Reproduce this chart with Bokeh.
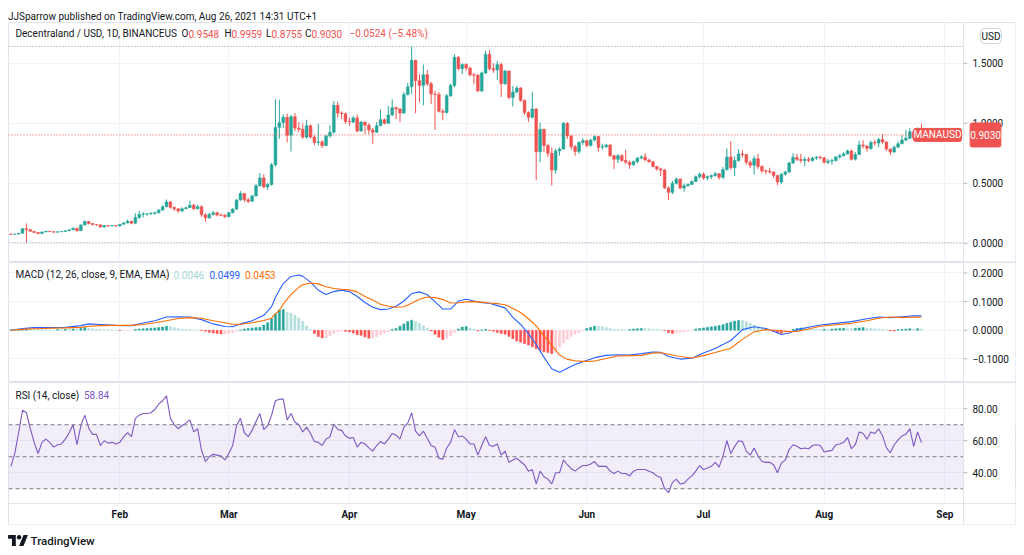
from datetime import datetime, timedelta
from bokeh.plotting import figure
from bokeh.layouts import column
from bokeh.models import (ColumnDataSource, Range1d, FixedTicker, Span, BoxAnnotation, Label, Div)
from bokeh.embed import file_html
from bokeh.resources import INLINE

# ---------------- data ----------------
START = datetime(2021, 1, 4)          # first visible daily candle
FIRST_OPEN = 0.078

CLOSE = [
    # Jan 4-31
    0.075, 0.077, 0.083, 0.122, 0.114, 0.100, 0.090, 0.082, 0.095, 0.100, 0.097, 0.093, 0.096, 0.098,
    0.104, 0.112, 0.126, 0.104, 0.152, 0.182, 0.165, 0.156, 0.154, 0.135, 0.148, 0.145, 0.148, 0.144,
    # Feb
    0.158, 0.170, 0.183, 0.168, 0.215, 0.240, 0.244, 0.246, 0.250, 0.257, 0.278, 0.305, 0.345, 0.300,
    0.287, 0.270, 0.288, 0.297, 0.318, 0.287, 0.305, 0.238, 0.212, 0.240, 0.255, 0.236, 0.234, 0.222,
    # Mar
    0.255, 0.285, 0.360, 0.415, 0.362, 0.350, 0.395, 0.480, 0.545, 0.470, 0.490, 0.655, 0.965, 1.005,
    1.050, 0.900, 1.055, 0.960, 0.950, 0.885, 0.980, 0.885, 0.840, 0.845, 0.815, 0.895, 0.925, 1.150,
    1.085, 1.080, 1.015,
    # Apr
    1.010, 1.045, 0.935, 1.010, 0.985, 0.945, 0.925, 0.980, 1.030, 1.000, 1.070, 1.130, 1.120, 1.085,
    1.240, 1.305, 1.525, 1.355, 1.315, 1.405, 1.330, 1.245, 1.240, 1.100, 1.090, 1.230, 1.315, 1.550,
    1.455, 1.490,
    # May
    1.460, 1.405, 1.400, 1.270, 1.420, 1.575, 1.455, 1.445, 1.490, 1.330, 1.435, 1.215, 1.260, 1.295,
    1.190, 1.090, 1.050, 1.120, 0.763, 0.950, 0.815, 0.750, 0.610, 0.770, 0.785, 1.000, 0.895, 0.805,
    0.765, 0.840, 0.855,
    # Jun
    0.815, 0.860, 0.890, 0.800, 0.805, 0.820, 0.730, 0.700, 0.730, 0.690, 0.675, 0.655, 0.680, 0.710,
    0.720, 0.695, 0.680, 0.640, 0.620, 0.610, 0.460, 0.425, 0.500, 0.535, 0.460, 0.480, 0.490, 0.515,
    0.555, 0.575,
    # Jul
    0.545, 0.555, 0.565, 0.580, 0.550, 0.615, 0.720, 0.630, 0.690, 0.745, 0.740, 0.675, 0.650, 0.705,
    0.640, 0.605, 0.600, 0.595, 0.565, 0.510, 0.575, 0.595, 0.670, 0.715, 0.700, 0.690, 0.700, 0.690,
    0.710, 0.718, 0.712,
    # Aug 1-26
    0.675, 0.685, 0.690, 0.720, 0.730, 0.745, 0.770, 0.700, 0.740, 0.820, 0.810, 0.790, 0.840, 0.835,
    0.865, 0.845, 0.785, 0.760, 0.800, 0.830, 0.860, 0.875, 0.930, 0.875, 0.9548, 0.9030,
]

HIGH = [
    0.080, 0.079, 0.085, 0.126, 0.165, 0.116, 0.102, 0.092, 0.098, 0.104, 0.103, 0.099, 0.099, 0.101,
    0.106, 0.115, 0.132, 0.128, 0.158, 0.190, 0.184, 0.168, 0.160, 0.156, 0.152, 0.152, 0.151, 0.150,
    0.162, 0.175, 0.198, 0.188, 0.250, 0.270, 0.262, 0.252, 0.258, 0.262, 0.283, 0.315, 0.365, 0.350,
    0.305, 0.292, 0.300, 0.305, 0.355, 0.330, 0.320, 0.315, 0.250, 0.255, 0.268, 0.262, 0.248, 0.242,
    0.262, 0.292, 0.368, 0.435, 0.418, 0.378, 0.405, 0.495, 0.585, 0.575, 0.505, 0.670, 1.200, 1.195,
    1.075, 1.080, 1.070, 1.085, 1.010, 1.000, 1.030, 0.990, 0.900, 0.995, 0.860, 0.905, 0.985, 1.185,
    1.180, 1.100, 1.090,
    1.050, 1.060, 1.075, 1.020, 1.015, 1.000, 0.960, 1.010, 1.115, 1.040, 1.145, 1.200, 1.140, 1.125,
    1.260, 1.335, 1.640, 1.530, 1.410, 1.490, 1.445, 1.345, 1.270, 1.260, 1.120, 1.245, 1.330, 1.575,
    1.560, 1.500,
    1.500, 1.470, 1.420, 1.410, 1.430, 1.605, 1.610, 1.500, 1.520, 1.505, 1.445, 1.440, 1.310, 1.310,
    1.300, 1.200, 1.100, 1.260, 1.125, 1.005, 0.955, 0.830, 0.800, 0.790, 0.800, 1.010, 1.010, 0.900,
    0.820, 0.850, 0.875,
    0.865, 0.870, 0.900, 0.895, 0.830, 0.830, 0.825, 0.740, 0.745, 0.740, 0.780, 0.690, 0.690, 0.718,
    0.735, 0.750, 0.705, 0.685, 0.645, 0.630, 0.620, 0.475, 0.520, 0.550, 0.540, 0.500, 0.500, 0.525,
    0.565, 0.590,
    0.590, 0.565, 0.572, 0.595, 0.585, 0.635, 0.790, 0.850, 0.725, 0.785, 0.775, 0.745, 0.690, 0.730,
    0.745, 0.650, 0.615, 0.630, 0.600, 0.570, 0.585, 0.605, 0.680, 0.750, 0.745, 0.745, 0.720, 0.720,
    0.720, 0.728, 0.730,
    0.720, 0.702, 0.705, 0.728, 0.745, 0.760, 0.780, 0.780, 0.760, 0.855, 0.860, 0.815, 0.855, 0.860,
    0.880, 0.910, 0.850, 0.790, 0.815, 0.850, 0.900, 0.945, 0.960, 0.940, 0.965, 0.9959,
]

LOW = [
    0.070, 0.072, 0.075, 0.081, 0.005, 0.097, 0.086, 0.076, 0.080, 0.093, 0.094, 0.089, 0.091, 0.094,
    0.096, 0.102, 0.110, 0.100, 0.102, 0.148, 0.158, 0.150, 0.146, 0.130, 0.132, 0.140, 0.142, 0.140,
    0.140, 0.155, 0.165, 0.158, 0.160, 0.205, 0.215, 0.225, 0.235, 0.238, 0.245, 0.270, 0.300, 0.290,
    0.270, 0.255, 0.260, 0.285, 0.295, 0.280, 0.285, 0.220, 0.180, 0.205, 0.232, 0.225, 0.226, 0.212,
    0.218, 0.250, 0.280, 0.355, 0.345, 0.335, 0.345, 0.390, 0.475, 0.460, 0.445, 0.480, 0.640, 0.870,
    0.960, 0.840, 0.765, 0.935, 0.925, 0.870, 0.870, 0.875, 0.815, 0.815, 0.795, 0.810, 0.880, 0.915,
    1.050, 1.035, 0.995,
    0.980, 1.000, 0.925, 0.930, 0.910, 0.910, 0.830, 0.920, 0.975, 0.990, 0.995, 1.060, 1.035, 1.010,
    1.080, 1.230, 1.245, 1.085, 1.175, 1.150, 1.310, 1.160, 0.945, 1.090, 1.025, 1.080, 1.220, 1.300,
    1.440, 1.410,
    1.440, 1.390, 1.330, 1.260, 1.260, 1.410, 1.440, 1.420, 1.360, 1.220, 1.320, 1.200, 1.140, 1.250,
    1.180, 1.070, 1.010, 1.040, 0.525, 0.675, 0.760, 0.720, 0.480, 0.580, 0.730, 0.780, 0.870, 0.780,
    0.730, 0.745, 0.820,
    0.800, 0.805, 0.850, 0.765, 0.780, 0.795, 0.720, 0.620, 0.670, 0.680, 0.660, 0.620, 0.645, 0.670,
    0.700, 0.685, 0.670, 0.630, 0.605, 0.560, 0.455, 0.360, 0.410, 0.490, 0.450, 0.430, 0.470, 0.485,
    0.510, 0.540,
    0.530, 0.525, 0.535, 0.555, 0.530, 0.535, 0.605, 0.615, 0.560, 0.680, 0.715, 0.655, 0.625, 0.575,
    0.620, 0.585, 0.575, 0.580, 0.545, 0.485, 0.495, 0.565, 0.585, 0.660, 0.685, 0.670, 0.640, 0.675,
    0.680, 0.695, 0.700,
    0.665, 0.660, 0.655, 0.680, 0.705, 0.725, 0.740, 0.690, 0.690, 0.735, 0.790, 0.765, 0.780, 0.815,
    0.800, 0.830, 0.770, 0.735, 0.755, 0.800, 0.825, 0.850, 0.870, 0.860, 0.870, 0.8755,
]

RSI = [
    44, 52, 65, 79, 77.5, 67.5, 59, 52, 59, 61, 59, 56, 57.5, 58, 61, 65, 70, 57.5, 69.5, 76,
    68, 64, 64, 57, 60, 58.5, 59, 58,
    59, 62.5, 65, 62.5, 74, 76, 77, 77, 77.5, 79.5, 83, 85, 88, 74, 70, 67.5, 69.5, 71, 73, 65.5,
    67.5, 54, 47, 50, 51.5, 51, 50.5, 48,
    52, 57, 69.5, 74, 65, 62.5, 66.5, 72, 77, 67, 69.5, 76, 85, 86, 86, 73, 77, 71.5, 70, 65.5,
    68.5, 64.5, 59.5, 59, 57, 61, 62.5, 70.5, 67, 66.5, 63,
    61.5, 62, 56, 59, 58, 55.5, 53.5, 57, 59.5, 58, 61, 64.5, 63.5, 61, 68.5, 71, 77.5, 66, 63, 66,
    61.5, 57, 56, 49, 48.5, 55.5, 59, 67, 62.5, 63,
    61, 58, 58, 51, 57, 62.5, 57, 56.5, 58, 51, 53.5, 46.5, 48, 49, 47, 45, 41, 42, 33, 41,
    37.5, 36, 33, 40, 40, 48, 45, 42.5, 41, 43, 44.5,
    44.5, 45.5, 47, 44, 44, 44, 41, 39.5, 41, 39.5, 39.5, 38, 41, 42, 42, 42, 41, 40, 38, 37,
    30, 27.5, 34, 36, 33, 33.5, 36, 38, 41, 44.5,
    42, 43, 44, 46.5, 43.5, 50.5, 60, 52, 56.5, 60, 59.5, 53.5, 51, 55.5, 50.5, 47, 46.5, 46.5, 45, 40,
    46, 48, 54.5, 57.5, 56.5, 55, 55.5, 55, 57, 57.5, 57,
    53, 53.5, 54, 57.5, 58, 59, 62, 55, 57.5, 65.5, 64.5, 61, 65.5, 64.5, 67.5, 63, 55.5, 52.5, 57.5, 60.5,
    63, 64, 67.5, 56.5, 65.5, 58.84,
]

# MACD histogram, daily, in thousandths
HIST_MILLI = [
    1, 1, 2, 3, 4, 4, 3, 3, 2, 2, 1, 1, 2, 2, 3, 3, 4, 4, 7, 9, 8, 6, 4, 3, 2, 1, 1, 0,
    -1, -1, -1, -1, 2, 4, 5, 6, 7, 8, 9, 11, 14, 12, 9, 6, 4, 3, 2, 1, 0, -1, -4, -7, -10, -12, -13, -13,
    -12, -9, -4, 1, 4, 6, 8, 9, 10, 18, 26, 40, 57, 71, 72, 63, 60, 52, 43, 30, 15, 3, -12, -22, -27,
    -27, -20, -11, -6, -3, -4,
    -6, -10, -16, -18, -24, -28, -27, -22, -16, -10, -5, 2, 6, 14, 22, 30, 35, 30, 24, 16, 8, -3, -15,
    -25, -33, -28, -20, -8, 4, 11,
    13, 8, 4, -2, 1, 3, -1, -4, -8, -12, -14, -22, -30, -38, -42, -47, -52, -58, -65, -72, -75, -78,
    -82, -75, -60, -45, -32, -22, -14, -8, -2,
    6, 10, 14, 14, 12, 9, 6, 3, 2, 2, 1, 2, 4, 5, 6, 6, 5, 3, 2, 1, -1, -8, -12, -10, -7, -5, -3, -1, 4, 6,
    8, 10, 12, 14, 16, 20, 24, 28, 32, 34, 34, 30, 24, 18, 12, 8, 4, 1, -3, -10, -12, -8, -5, 3, 6, 8,
    7, 6, 4, 3, 2,
    3, 3, 4, 5, 6, 7, 6, 6, 7, 8, 9, 7, 6, 5, 4, 3, 1, -2, -3, 2, 3, 4, 5, 4, 5, 4.6,
]

# MACD and signal lines, read at these day offsets from START, in thousandths
MACD_DAYS = [0, 3, 6, 10, 14, 18, 20, 23, 27, 31, 34, 37, 40, 43, 46, 49, 52, 55, 57, 59,
             62, 65, 67, 68, 69, 70, 72, 74, 75, 77, 79, 81, 83, 85, 87, 89, 91, 93, 95, 97,
             99, 101, 103, 105, 107, 109, 111, 113, 115, 117, 119, 121, 123, 125, 127, 129, 131, 133, 135, 137,
             139, 141, 143, 145, 147, 150, 153, 156, 159, 162, 165, 167, 169, 172, 175, 178, 181, 185, 188, 191,
             194, 196, 198, 200, 202, 205, 208, 212, 216, 220, 223, 226, 229, 232, 234]
MACD_MILLI = [0, 6, 9, 9, 10, 16, 22, 20, 17, 16, 25, 33, 46, 47, 46, 37, 22, 13, 12, 22,
              33, 52, 82, 115, 140, 163, 188, 193, 189, 168, 140, 125, 135, 140, 135, 118, 97, 80, 72, 74,
              84, 102, 128, 134, 124, 100, 74, 74, 102, 108, 102, 96, 94, 86, 78, 45, 20, -12, -50, -95,
              -135, -147, -133, -120, -110, -96, -88, -86, -87, -82, -76, -77, -92, -101, -98, -80, -64, -36, 2, 12,
              6, -4, -15, -10, 2, 10, 18, 24, 30, 40, 46, 44, 47, 50, 49.9]
SIGNAL_MILLI = [0, 3, 5, 7, 8, 10, 14, 16, 17, 17, 20, 26, 33, 41, 44, 42, 33, 26, 21, 21,
                26, 34, 42, 58, 69, 91, 125, 150, 159, 165, 162, 152, 146, 143, 141, 134, 118, 106, 91, 84,
                80, 82, 94, 108, 116, 114, 107, 95, 96, 99, 100, 98, 95, 93, 89, 76, 62, 40, 15, -20,
                -53, -87, -102, -107, -109, -108, -99, -90, -89, -88, -80, -79, -84, -92, -97, -89, -78, -63, -32, -6,
                2, 0, -3, -5, -4, 4, 14, 19, 24, 33, 42, 46, 44, 46, 45.3]

MONTH_TICKS = [datetime(2021, m, 1) for m in range(2, 10)]   # Feb .. Sep
MONTH_LABELS = ["Feb", "Mar", "Apr", "May", "Jun", "Jul", "Aug", "Sep"]

PRICE_TICKS = [0.0, 0.5, 1.0, 1.5]
MACD_TICKS = [-0.1, 0.0, 0.1, 0.2]
RSI_TICKS = [40, 60, 80]

# ---------------- styling ----------------
UP, DOWN = "#26a69a", "#ef5350"
TXT = "#131722"
GRID = "#f0f3fa"
BORDER = "#e0e3eb"
FONT = "Roboto"
DAY_MS = 86400000
FIG_W = 1008
PLOT_W = 955                       # width of the data area; the rest is the price scale

X_START = datetime(2021, 1, 3, 9, 36)
AXIS_X = datetime(2021, 9, 5, 19, 12)          # where the price scale begins
X_END = X_START + (AXIS_X - X_START) * (FIG_W / PLOT_W)

RSI_FLOOR = 20.8                   # bottom of the RSI pane; the time scale strip lies below it
RSI_LABEL_Y = 13.9                 # middle of the time scale strip, in RSI units

dates = [START + timedelta(days=i) for i in range(len(CLOSE))]
opens = [FIRST_OPEN] + CLOSE[:-1]
candle_color = [UP if c >= o else DOWN for o, c in zip(opens, CLOSE)]

hist = [v / 1000 for v in HIST_MILLI]
hist_color = []
prev = 0.0
for h in hist:
    if h >= 0:
        hist_color.append("#26a69a" if h > prev else "#b2dfdb")
    else:
        hist_color.append("#ff5252" if h < prev else "#ffcdd2")
    prev = h
macd_dates = [START + timedelta(days=d) for d in MACD_DAYS]
macd_vals = [v / 1000 for v in MACD_MILLI]
sig_vals = [v / 1000 for v in SIGNAL_MILLI]


def ms(d):
    return (d - datetime(1970, 1, 1)).total_seconds() * 1000


month_ms = [ms(d) for d in MONTH_TICKS]
x_range = Range1d(X_START, X_END)


def make_fig(h, y_range, ticks):
    p = figure(width=FIG_W, height=h, x_range=x_range, y_range=y_range,
               x_axis_type="datetime", x_axis_location=None,
               y_axis_location=None, toolbar_location=None, output_backend="svg",
               min_border_left=0, min_border_right=0, min_border_top=0, min_border_bottom=0)
    p.background_fill_color = "white"
    p.border_fill_color = "white"
    p.outline_line_color = BORDER
    p.outline_line_width = 1
    p.xgrid.ticker = FixedTicker(ticks=month_ms)
    p.xgrid.grid_line_color = GRID
    p.ygrid.ticker = FixedTicker(ticks=ticks)
    p.ygrid.grid_line_color = GRID
    return p


def label(p, x, y, text, color=TXT, x_units="screen", **kw):
    p.add_layout(Label(x=x, y=y, x_units=x_units, y_units="data", text=text,
                       text_font=FONT, text_font_size="10px", text_color=color,
                       text_baseline="middle", **kw))


def white_box(p, left, right, top, bottom):
    p.add_layout(BoxAnnotation(left=left, right=right, top=top, bottom=bottom,
                               fill_color="white", fill_alpha=1.0, line_alpha=0))


def price_scale(p, ticks, texts, floor=None):
    """White price-scale strip on the right with its border, tick marks and labels."""
    yr = p.y_range
    pad = (yr.end - yr.start) / p.height
    bottom = yr.start + pad if floor is None else floor
    white_box(p, ms(AXIS_X), ms(X_END) - 0.3 * DAY_MS, yr.end - pad, bottom)
    p.segment(x0=[AXIS_X] * len(ticks), x1=[AXIS_X + timedelta(days=1)] * len(ticks),
              y0=ticks, y1=ticks, line_color="#b2b5be", line_width=1, level="overlay")
    for t, s in zip(ticks, texts):
        label(p, PLOT_W + 9, t, s)


def scale_border(p):
    p.add_layout(Span(location=ms(AXIS_X), dimension="height", line_color=BORDER, line_width=1))


def minus(s):
    return s.replace("-", "\u2212")


# ---------------- price pane ----------------
pp = make_fig(240, Range1d(-0.16, 1.84), PRICE_TICKS)
src = ColumnDataSource(dict(x=dates, o=opens, h=HIGH, l=LOW, c=CLOSE, color=candle_color))
pp.segment(x0="x", y0="l", x1="x", y1="h", line_color="color", line_width=1, source=src)
pp.vbar(x="x", width=0.72 * DAY_MS, top="o", bottom="c", fill_color="color",
        line_color="color", line_width=0.5, source=src)
pp.add_layout(Span(location=max(HIGH), dimension="width", line_color="#9598a1",
                   line_dash="1 2", line_width=1))
pp.add_layout(Span(location=min(LOW), dimension="width", line_color="#9598a1",
                   line_dash="1 2", line_width=1))
pp.add_layout(Span(location=CLOSE[-1], dimension="width", line_color=DOWN,
                   line_dash="1 2", line_width=1))
price_scale(pp, PRICE_TICKS, ["%.4f" % t for t in PRICE_TICKS])
scale_border(pp)

label(pp, 7, 1.748, "Decentraland / USD, 1D, BINANCEUS")
for x, t, c in [(173, "O", TXT), (180, "0.9548", DOWN), (216, "H", TXT), (223, "0.9959", DOWN),
                (257.5, "L", TXT), (263, "0.8755", DOWN), (296.5, "C", TXT), (303, "0.9030", DOWN),
                (341, "\u22120.0524 (\u22125.48%)", DOWN)]:
    label(pp, x, 1.748, t, c)

label(pp, 929, CLOSE[-1], "MANAUSD", "white", text_align="center",
      background_fill_color=DOWN, border_line_color=DOWN, padding=(0, 1), border_radius=2)
label(pp, 977, CLOSE[-1], "%.4f" % CLOSE[-1], "white", text_align="center",
      background_fill_color=DOWN, border_line_color=DOWN, padding=(0, 8), border_radius=2)
label(pp, 982.5, 1.7275, "USD", TXT, text_align="center", background_fill_color="white",
      border_line_color="#d1d4dc", padding=(1, 2), border_radius=4)

# ---------------- MACD pane ----------------
pm = make_fig(120, Range1d(-0.1829, 0.2367), MACD_TICKS)
pm.vbar(x=dates, width=0.55 * DAY_MS, top=hist, bottom=0, fill_color=hist_color,
        line_color=hist_color, line_width=0.5)
pm.line(x=macd_dates, y=macd_vals, line_color="#2962ff", line_width=1.1)
pm.line(x=macd_dates, y=sig_vals, line_color="#ff6d00", line_width=1.1)
price_scale(pm, MACD_TICKS, [minus("%.4f" % t) for t in MACD_TICKS])
scale_border(pm)
label(pm, 7, 0.1937, "MACD (12, 26, close, 9, EMA, EMA)")
label(pm, 165, 0.1937, "0.0046", "#a7d9d4")
label(pm, 201, 0.1937, "0.0499", "#2962ff")
label(pm, 236.5, 0.1937, "0.0453", "#ff6d00")

# ---------------- RSI pane + time scale ----------------
pr = make_fig(143, Range1d(7.025, 96.4), RSI_TICKS)
pr.add_layout(BoxAnnotation(bottom=30, top=70, fill_color="#7e57c2", fill_alpha=0.1,
                            line_alpha=0, level="underlay"))
for lv in (70, 50, 30):
    pr.add_layout(Span(location=lv, dimension="width", line_color="#787b86",
                       line_dash="4 3", line_width=1))
pr.line(x=dates, y=RSI, line_color="#7e57c2", line_width=1.1)
price_scale(pr, RSI_TICKS, ["%.2f" % t for t in RSI_TICKS], floor=RSI_FLOOR)
# time scale strip: blank the grid below the pane, draw its top border and the month labels
pad_y = (96.4 - 7.025) / 143
white_box(pr, ms(X_START) + 0.3 * DAY_MS, ms(X_END) - 0.3 * DAY_MS, RSI_FLOOR, 7.025 + pad_y)
pr.add_layout(Span(location=RSI_FLOOR, dimension="width", line_color=BORDER, line_width=1))
scale_border(pr)
for m, t in zip(MONTH_TICKS, MONTH_LABELS):
    label(pr, ms(m), RSI_LABEL_Y, t, TXT, x_units="data", text_align="center",
          text_font_style="bold")
label(pr, 7, 88.3, "RSI (14, close)")
label(pr, 75.5, 88.3, "%.2f" % RSI[-1], "#7e57c2")

# ---------------- header / footer ----------------
header = Div(text='<div style="font:10px Roboto, sans-serif;color:#131722;line-height:10px;'
                  'margin-top:-1px;white-space:nowrap">JJSparrow published on TradingView.com, '
                  'Aug 26, 2021 14:31 UTC+1</div>', width=FIG_W, height=14, margin=0)
logo = ('<svg width="20" height="11" viewBox="0 0 36 20" style="vertical-align:-1px">'
        '<path d="M14 20H7V7H0V0h14z" fill="#131722"/>'
        '<circle cx="20" cy="4" r="4" fill="#131722"/>'
        '<path d="M28 20h-8l8-20h8z" fill="#131722"/></svg>')
footer = Div(text='<div style="padding-top:9px;font:500 11.5px Roboto, sans-serif;color:#131722;'
                  'white-space:nowrap">' + logo + ' TradingView</div>', width=FIG_W, height=22,
             margin=0)

layout = column(header, pp, pm, pr, footer, margin=(8, 8, 0, 8))
open("out.html", "w", encoding="utf-8").write(file_html(layout, INLINE))
